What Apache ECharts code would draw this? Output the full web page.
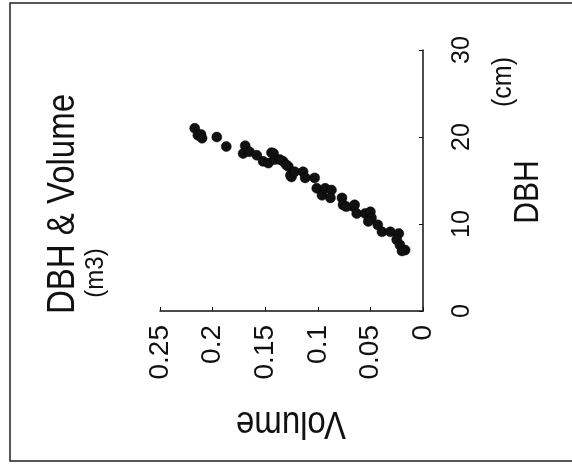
<!DOCTYPE html>
<html>
<head>
<meta charset="utf-8">
<script src="https://cdn.jsdelivr.net/npm/echarts@6/dist/echarts.min.js"></script>
<style>
  html, body { margin: 0; padding: 0; background: #fff; }
  #chart { width: 572px; height: 466px; }
</style>
</head>
<body>
<div id="chart"></div>
<script>
// volume (m3) and DBH (cm)
var volume = [
  0.217, 0.214, 0.211, 0.210, 0.196, 0.187, 0.169, 0.171, 0.165, 0.158,
  0.144, 0.152, 0.147, 0.141, 0.133, 0.128, 0.125, 0.142, 0.136, 0.130,
  0.126, 0.122, 0.114, 0.112, 0.103, 0.101, 0.096, 0.093, 0.087, 0.088,
  0.077, 0.076, 0.066, 0.073, 0.065, 0.063, 0.055, 0.050, 0.049, 0.052,
  0.043, 0.039, 0.031, 0.023, 0.025, 0.022, 0.017, 0.020
];
var dbh = [
  21.0, 20.2, 20.3, 19.85, 20.0, 18.9, 19.0, 18.1, 18.3, 17.9,
  18.2, 17.2, 17.0, 17.4, 17.2, 16.6, 15.4, 18.1, 17.4, 16.8,
  15.6, 16.0, 16.0, 15.3, 15.3, 14.1, 13.3, 14.1, 13.9, 13.0,
  13.0, 12.2, 12.0, 12.0, 12.2, 11.2, 11.2, 11.4, 10.7, 10.3,
  9.9, 9.1, 9.1, 8.9, 8.2, 7.6, 7.0, 6.9
];
var volumeTicks = [0, 0.05, 0.1, 0.15, 0.2, 0.25];
var dbhTicks = [0, 10, 20, 30];

var points = volume.map(function (v, i) {
  return [v, dbh[i]];
});

var font = "'Liberation Sans', Arial, sans-serif";
var ink = '#111';

var myChart = echarts.init(document.getElementById('chart'));

// rotated caption helper (the scan's lettering is a bit taller than Arial)
function label(text, x, y, size, rot, stretch) {
  return {
    type: 'text', x: x, y: y, rotation: rot, scaleY: stretch || 1,
    style: {
      text: text, fontSize: size, fontFamily: font, fill: ink,
      align: 'center', verticalAlign: 'middle'
    }
  };
}

var option = {
  backgroundColor: '#fff',
  animation: false,
  grid: {
    left: 160,
    right: 149,
    top: 50,
    bottom: 155
  },
  // the whole plot is printed turned a quarter turn, so volume runs right-to-left
  xAxis: {
    type: 'value',
    inverse: true,
    position: 'bottom',
    min: volumeTicks[0],
    max: volumeTicks[volumeTicks.length - 1],
    interval: 0.05,
    axisLine: { lineStyle: { color: ink, width: 1.5 } },
    axisTick: { show: true, inside: true, length: 4, lineStyle: { color: ink } },
    splitLine: { show: false },
    axisLabel: {
      rotate: 90,
      margin: 14,
      fontSize: 28,
      fontFamily: font,
      color: ink,
      formatter: function (val) {
        return String(Math.round(val * 100) / 100);
      }
    }
  },
  yAxis: {
    type: 'value',
    position: 'right',
    min: dbhTicks[0],
    max: dbhTicks[dbhTicks.length - 1],
    interval: 10,
    axisLine: { show: true, lineStyle: { color: ink, width: 1.5 } },
    axisTick: { show: true, inside: true, length: 4, lineStyle: { color: ink } },
    splitLine: { show: false },
    axisLabel: {
      rotate: 90,
      margin: 27,
      fontSize: 25,
      fontFamily: font,
      color: ink
    }
  },
  graphic: [
    {
      type: 'rect',
      shape: { x: 10, y: 3, width: 620, height: 458 },
      style: { fill: 'none', stroke: '#222', lineWidth: 1.5 },
      silent: true
    },
    label('DBH & Volume', 64, 204, 33, Math.PI / 2, 1.15),
    label('(m3)', 96, 273, 24, Math.PI / 2, 1.1),
    label('Volume', 291, 422, 33, Math.PI, 1.15),
    label('DBH', 528, 192, 30, Math.PI / 2, 1.15),
    label('(cm)', 503, 82, 25, Math.PI / 2, 1.1)
  ],
  series: [
    {
      type: 'scatter',
      symbol: 'circle',
      symbolSize: 10,
      itemStyle: { color: ink, opacity: 1, borderColor: '#000', borderWidth: 0.5 },
      data: points
    }
  ]
};

myChart.setOption(option);
</script>
</body>
</html>
